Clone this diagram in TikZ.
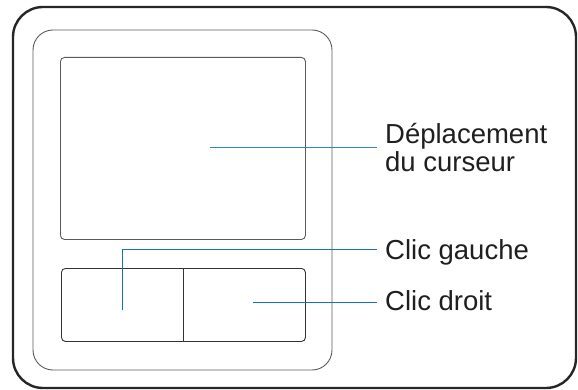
\documentclass[tikz,border=0pt]{standalone}
\usepackage{fontspec}
\setmainfont{Liberation Sans}
\definecolor{leaderblue}{HTML}{2F86CC}
\definecolor{leaderdark}{HTML}{1670C0}
\definecolor{framegray}{HTML}{5A5A5A}
\tikzset{
	casing/.style = {draw = black!85, line width = 2.4pt, rounded corners = 30pt},
	bezel/.style = {draw = framegray, line width = 0.9pt, rounded corners = 20pt},
	padbox/.style = {draw = framegray, line width = 0.9pt, rounded corners = 4pt},
	leader/.style = {draw = leaderblue, line width = 1.2pt, shorten > = 8pt},
	lbl/.style = {inner sep = 0pt, anchor = base west, align = left, text = black!88,
		font = \fontsize{27.5}{28.5}\selectfont},
}
\begin{document}
\begin{tikzpicture}[x=1pt, y=-1pt]
	\useasboundingbox (0,0) rectangle (578,390);
	% frames
	\draw [casing] (13,7) rectangle (576,388);
	\draw [bezel] (33,30) rectangle (332,370);
	\node [padbox, inner sep = 0pt, minimum width = 245pt, minimum height = 182pt, anchor = north west] (pad) at (60,57) {};
	\node [padbox, draw = black!80, inner sep = 0pt, minimum width = 244pt, minimum height = 73pt, anchor = north west] (buttons) at (61,268) {};
	\draw [draw = black!80, line width = 0.9pt] (buttons.north) ++(-0.5,0) coordinate (split) -- (split |- buttons.south);
	% labels (base of a two-line node is its last line)
	\node [lbl] (move) at (385,172) {Déplacement\\du curseur};
	\node [lbl] (left) at (385,259) {Clic gauche};
	\node [lbl] (right) at (385,310.5) {Clic droit};
	\coordinate (movept) at (210,147.7);
	\coordinate (leftpt) at (122.7,310);
	\coordinate (leftbend) at (122.7,249.3);
	\coordinate (rightpt) at (253,302.3);
	% leaders
	\draw [leader] (movept) -- (movept -| move.west);
	\draw [leader, draw = leaderdark, shorten > = 0pt] (leftpt) -- (leftbend) -- ([xshift = -8pt] leftbend -| left.west);
	\draw [leader, draw = leaderdark] (rightpt) -- (rightpt -| right.west);
\end{tikzpicture}
\end{document}
